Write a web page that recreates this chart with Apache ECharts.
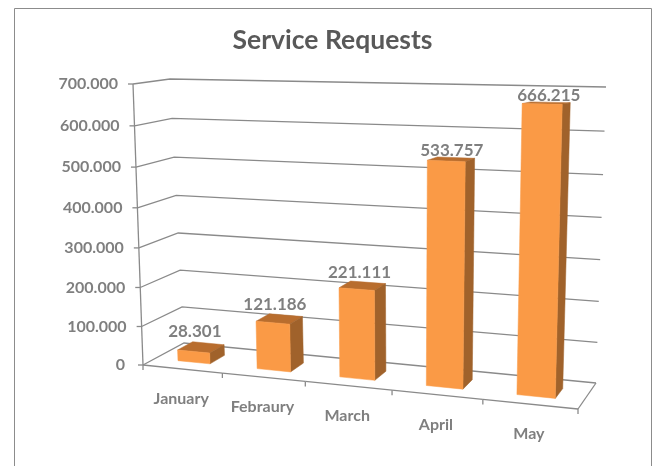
<!DOCTYPE html>
<html>
<head>
<meta charset="utf-8">
<style>
    html, body { margin: 0; padding: 0; background: #fff; }
    #main { width: 652px; height: 466px; }
</style>
<script src="https://cdn.jsdelivr.net/npm/echarts@6/dist/echarts.min.js"></script>
</head>
<body>
<div id="main"></div>
<script>
var titleText = 'Service Requests';
var months = ['January', 'Febraury', 'March', 'April', 'May'];
var requests = [28301, 121186, 221111, 533757, 666215];
var yTicks = [0, 100000, 200000, 300000, 400000, 500000, 600000, 700000];

var fontName = 'Lato, "Noto Sans", sans-serif';
var textGrey = '#7f7f7f';
var lineGrey = '#8a8a8a';

// corners of the chart box on screen, [x, y]: floor then ceiling, front then back
var floorFL = [143, 365], floorFR = [578, 409], floorBL = [184, 343], floorBR = [596, 383];
var ceilFL = [133, 84], ceilFR = [586, 90], ceilBL = [170, 79], ceilBR = [606, 87];

function warp(t, k) {
    return t / (t + k * (1 - t));
}
function mix(a, b, t) {
    return [a[0] + (b[0] - a[0]) * t, a[1] + (b[1] - a[1]) * t];
}
// u along the categories, v up the value axis, w into the depth (all 0..1)
function project(u, v, w) {
    var uu = warp(u, 1.12), vv = warp(v, 1.05);
    var floor = mix(mix(floorFL, floorFR, uu), mix(floorBL, floorBR, uu), w);
    var ceil = mix(mix(ceilFL, ceilFR, uu), mix(ceilBL, ceilBR, uu), w);
    return mix(floor, ceil, vv);
}
function toUV(params, api, cat, val) {
    var c = api.coord([cat, val]);
    var box = params.coordSys;
    return [(c[0] - box.x) / box.width, 1 - (c[1] - box.y) / box.height];
}
function thousands(val) {
    return String(val).replace(/\B(?=(\d{3})+$)/g, '.');
}
function line(points) {
    return {
        type: 'polyline',
        shape: { points: points },
        style: { fill: null, stroke: lineGrey, lineWidth: 1.3 }
    };
}
function label(text, p, align, size) {
    return {
        type: 'text',
        style: {
            text: text, x: p[0], y: p[1], align: align, verticalAlign: 'middle',
            fill: textGrey, font: 'bold ' + size + 'px ' + fontName
        }
    };
}

function renderWall(params, api) {
    var val = api.value(1);
    var v = toUV(params, api, 0, val)[1];
    var fl = project(0, v, 0), bl = project(0, v, 1), br = project(1, v, 1);
    var kids = [
        line([fl, bl, br]),
        line([[fl[0] - 5, fl[1]], fl]),
        label(val === 0 ? '0' : thousands(val), [fl[0] - (val === 0 ? 18 : 15), fl[1]], 'right', 16)
    ];
    if (val === 0) {
        kids.push(line([project(0, 0, 0), project(0, 1, 0)]));
        kids.push(line([project(1, 0, 0), br]));
        kids.push(line([fl, [fl[0], fl[1] + 5]]));
    }
    return { type: 'group', children: kids };
}

function renderBar(params, api) {
    var i = api.value(0), val = api.value(1);
    var uv = toUV(params, api, i, val);
    var band = api.size([1, 0])[0] / params.coordSys.width;
    var half = band * 0.205;
    var u0 = uv[0] - half, u1 = uv[0] + half, v = uv[1];
    var w0 = 0.3, w1 = 0.68;
    var edge0 = project(uv[0] - band / 2, 0, 0), edge1 = project(uv[0] + band / 2, 0, 0);
    var bottom = project(uv[0], 0, 0), top = project(uv[0], v, w0);
    function face(pts, color) {
        return {
            type: 'polygon',
            shape: { points: pts },
            style: { fill: color, stroke: color, lineWidth: 0.5 }
        };
    }
    return {
        type: 'group',
        children: [
            line([edge0, edge1]),
            line([edge1, [edge1[0], edge1[1] + 5]]),
            face([project(u0, v, w0), project(u1, v, w0), project(u1, v, w1), project(u0, v, w1)], '#b86d2e'),
            face([project(u1, 0, w0), project(u1, 0, w1), project(u1, v, w1), project(u1, v, w0)], '#a0622b'),
            face([project(u0, 0, w0), project(u1, 0, w0), project(u1, v, w0), project(u0, v, w0)], '#fa9a46'),
            label(thousands(val), [top[0] + 1 + 6 * v, top[1] - 20 + 12 * v], 'center', 17),
            label(months[i], [bottom[0] - 1, bottom[1] + 30], 'center', 16)
        ]
    };
}

var chart = echarts.init(document.getElementById('main'));
chart.setOption({
    animation: false,
    backgroundColor: '#fff',
    title: {
        text: titleText,
        left: 327.5,
        top: 22,
        textAlign: 'center',
        textStyle: { color: '#595959', fontFamily: fontName, fontWeight: 'bold', fontSize: 26.5 }
    },
    grid: { left: 0, right: 0, top: 0, bottom: 0 },
    xAxis: { type: 'category', data: months, show: false },
    yAxis: { type: 'value', min: 0, max: 700000, interval: 100000, show: false },
    graphic: [{
        type: 'polyline',
        silent: true,
        shape: { points: [[14.5, 466], [14.5, 8.5], [651.5, 8.5], [651.5, 466]] },
        style: { fill: null, stroke: '#8c8c8c', lineWidth: 1 }
    }],
    series: [
        {
            type: 'custom',
            silent: true,
            z: 1,
            renderItem: renderWall,
            data: yTicks.map(function (t) { return [0, t]; })
        },
        {
            type: 'custom',
            silent: true,
            z: 2,
            renderItem: renderBar,
            data: requests.map(function (r, i) { return [i, r]; })
        }
    ]
});
</script>
</body>
</html>
